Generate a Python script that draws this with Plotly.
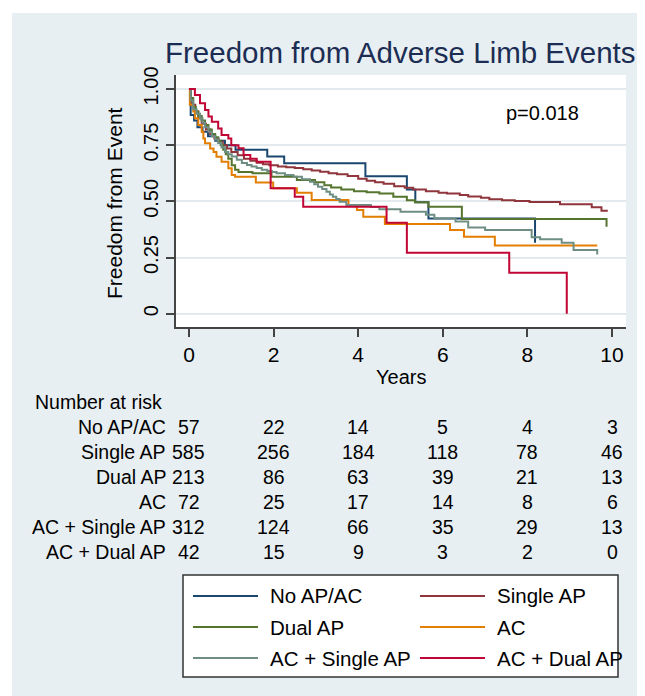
import plotly.graph_objects as go

# ---------------- data ----------------
groups = ["No AP/AC", "Single AP", "Dual AP", "AC", "AC + Single AP", "AC + Dual AP"]
colors = ["#1a476f", "#90353b", "#55752f", "#e37e00", "#6e8e84", "#c10534"]

t_noapac = [0, 0.04, 0.12, 0.2, 0.32, 0.45, 0.62, 0.85, 1.1, 1.85, 2.25, 4.17, 5.15, 5.35, 5.66, 8.18]
s_noapac = [1.0, 0.884, 0.86, 0.83, 0.81, 0.79, 0.77, 0.75, 0.73, 0.70, 0.669, 0.612, 0.553, 0.496, 0.424, 0.316]

t_single = [0, 0.03, 0.08, 0.15, 0.22, 0.3, 0.4, 0.5, 0.6, 0.7, 0.8, 0.9, 1.0, 1.15, 1.3, 1.45, 1.6, 1.75,
            1.9, 2.1, 2.3, 2.5, 2.7, 2.9, 3.1, 3.3, 3.5, 3.75, 4.0, 4.2, 4.4, 4.6, 4.85, 5.1, 5.3, 5.6, 5.9,
            6.1, 6.4, 6.6, 6.9, 7.1, 7.4, 7.7, 8.05, 8.77, 9.52, 9.75, 9.9]
s_single = [1.0, 0.96, 0.93, 0.90, 0.87, 0.845, 0.82, 0.80, 0.78, 0.765, 0.75, 0.735, 0.72, 0.705, 0.69, 0.68,
            0.672, 0.665, 0.66, 0.655, 0.652, 0.648, 0.643, 0.637, 0.632, 0.625, 0.62, 0.613, 0.60, 0.592,
            0.585, 0.578, 0.567, 0.56, 0.553, 0.545, 0.538, 0.535, 0.528, 0.521, 0.516, 0.509, 0.505, 0.502,
            0.497, 0.487, 0.474, 0.458, 0.458]

t_dual = [0, 0.04, 0.1, 0.16, 0.22, 0.3, 0.38, 0.46, 0.54, 0.62, 0.69, 0.75, 0.81, 0.87, 0.93, 1.01, 1.09,
          1.17, 1.5, 1.95, 2.55, 2.98, 3.2, 3.36, 3.6, 3.9, 4.2, 4.5, 4.83, 5.15, 5.34, 5.66, 6.45, 9.87]
s_dual = [1.0, 0.96, 0.92, 0.90, 0.88, 0.86, 0.84, 0.82, 0.80, 0.785, 0.77, 0.75, 0.73, 0.71, 0.69, 0.66, 0.64,
          0.63, 0.625, 0.609, 0.595, 0.585, 0.572, 0.562, 0.553, 0.545, 0.54, 0.535, 0.52, 0.505, 0.496, 0.476,
          0.421, 0.387]

t_ac = [0, 0.02, 0.1, 0.14, 0.22, 0.3, 0.34, 0.38, 0.5, 0.58, 0.65, 0.77, 0.93, 1.01, 1.09, 1.58, 1.99, 2.55,
        2.9, 3.77, 3.97, 4.12, 4.63, 6.17, 6.5, 7.23, 9.65]
s_ac = [1.0, 0.93, 0.90, 0.87, 0.84, 0.81, 0.78, 0.758, 0.735, 0.72, 0.698, 0.676, 0.647, 0.617, 0.609, 0.584,
        0.558, 0.538, 0.506, 0.48, 0.461, 0.431, 0.399, 0.372, 0.343, 0.303, 0.303]

t_acsingle = [0, 0.04, 0.1, 0.18, 0.26, 0.32, 0.38, 0.46, 0.54, 0.62, 0.69, 0.77, 0.85, 0.93, 1.01, 1.13, 1.25,
              1.37, 1.48, 1.6, 1.72, 1.85, 1.96, 2.07, 2.27, 2.47, 2.67, 2.86, 2.96, 3.05, 3.15, 3.25, 3.33,
              3.4, 3.48, 3.56, 3.72, 4.3, 4.5, 5.0, 5.6, 5.8, 6.3, 6.6, 7.0, 8.1, 8.3, 8.81, 9.09, 9.65]
s_acsingle = [1.0, 0.95, 0.91, 0.89, 0.87, 0.85, 0.83, 0.81, 0.79, 0.775, 0.76, 0.74, 0.72, 0.71, 0.70, 0.685,
              0.67, 0.662, 0.655, 0.648, 0.64, 0.635, 0.63, 0.625, 0.617, 0.609, 0.598, 0.587, 0.576, 0.565,
              0.555, 0.543, 0.53, 0.52, 0.51, 0.498, 0.484, 0.475, 0.465, 0.454, 0.44, 0.424, 0.41, 0.384,
              0.372, 0.34, 0.331, 0.316, 0.283, 0.264]

t_acdual = [0, 0.14, 0.26, 0.38, 0.46, 0.54, 0.69, 0.77, 0.93, 1.0, 1.17, 1.29, 1.45, 1.6, 1.93, 2.5, 2.7,
            4.67, 5.15, 7.57, 8.93]
s_acdual = [1.0, 0.973, 0.936, 0.906, 0.877, 0.854, 0.824, 0.795, 0.78, 0.75, 0.736, 0.706, 0.69, 0.676,
            0.558, 0.52, 0.476, 0.405, 0.271, 0.182, 0.0]

series_t = [t_noapac, t_single, t_dual, t_ac, t_acsingle, t_acdual]
series_s = [s_noapac, s_single, s_dual, s_ac, s_acsingle, s_acdual]

x_ticks = [0, 2, 4, 6, 8, 10]
y_ticks = [0, 0.25, 0.5, 0.75, 1.0]
y_tick_labels = ["0", "0.25", "0.50", "0.75", "1.00"]

risk_header = "Number at risk"
risk_times = [0, 2, 4, 6, 8, 10]
risk_counts = [
    [57, 22, 14, 5, 4, 3],
    [585, 256, 184, 118, 78, 46],
    [213, 86, 63, 39, 21, 13],
    [72, 25, 17, 14, 8, 6],
    [312, 124, 66, 35, 29, 13],
    [42, 15, 9, 3, 2, 0],
]
p_text = "p=0.018"
title_text = "Freedom from Adverse Limb Events"

# ---------------- layout helpers ----------------
OFF = 8  # default page body margin
W, H = 645 - OFF, 696 - OFF
L, R, T, B = 176 - OFF, 19, 75 - OFF, 369
PW, PH = W - L - R, H - T - B


def xp(px):
    """reference page x pixel -> paper coordinate"""
    return (px - OFF - L) / PW


def yp(py):
    """reference page y pixel -> paper coordinate"""
    return (H - B - (py - OFF)) / PH


FONT = "Liberation Sans, Arial, sans-serif"
BG = "#e8eff2"

fig = go.Figure()
for name, col, tt, ss in zip(groups, colors, series_t, series_s):
    fig.add_trace(go.Scatter(x=tt, y=ss, mode="lines", line=dict(color=col, width=2, shape="hv"),
                             name=name, showlegend=False))

annotations = []
shapes = []

# title
annotations.append(dict(x=xp(400), y=yp(52), xref="paper", yref="paper", text=title_text, showarrow=False,
                        font=dict(size=29.5, color="#1c2d54", family=FONT), xanchor="center", yanchor="middle"))
# p-value
annotations.append(dict(x=8.35, y=0.893, xref="x", yref="y", text=p_text, showarrow=False,
                        font=dict(size=20, color="black", family=FONT), xanchor="center", yanchor="middle"))
# axis titles
annotations.append(dict(x=xp(401), y=yp(377), xref="paper", yref="paper", text="Years", showarrow=False,
                        font=dict(size=20, color="black", family=FONT), xanchor="center", yanchor="middle"))
annotations.append(dict(x=xp(114), y=yp(203), xref="paper", yref="paper", text="Freedom from Event",
                        showarrow=False, textangle=-90,
                        font=dict(size=21, color="black", family=FONT), xanchor="center", yanchor="middle"))

# number at risk table (number columns sit under the x ticks)
TF = 19.5
annotations.append(dict(x=xp(33), y=yp(402), xref="paper", yref="paper", text=risk_header, showarrow=False,
                        font=dict(size=TF, color="black", family=FONT), xanchor="left", yanchor="middle"))
row_y = [427, 452, 477, 502, 527, 552]
for i, g in enumerate(groups):
    annotations.append(dict(x=xp(168), y=yp(row_y[i]), xref="paper", yref="paper", text=g, showarrow=False,
                            font=dict(size=TF, color="black", family=FONT), xanchor="right", yanchor="middle"))
    for tval, v in zip(risk_times, risk_counts[i]):
        annotations.append(dict(x=tval, y=yp(row_y[i]), xref="x", yref="paper", text=str(v),
                                showarrow=False, font=dict(size=TF, color="black", family=FONT),
                                xanchor="center", yanchor="middle"))

# manual legend
shapes.append(dict(type="rect", xref="paper", yref="paper", x0=xp(183), x1=xp(618), y0=yp(575), y1=yp(677),
                   fillcolor="white", line=dict(color="#333333", width=1.5), layer="above"))
leg_rows = [596, 627, 658]
leg_line_x = [(193, 258), (420, 485)]
leg_text_x = [268, 495]
for k, (g, c) in enumerate(zip(groups, colors)):
    r, cidx = divmod(k, 2)
    x0, x1 = leg_line_x[cidx]
    shapes.append(dict(type="line", xref="paper", yref="paper", x0=xp(x0), x1=xp(x1), y0=yp(leg_rows[r]),
                       y1=yp(leg_rows[r]), line=dict(color=c, width=2), layer="above"))
    annotations.append(dict(x=xp(leg_text_x[cidx]), y=yp(leg_rows[r]), xref="paper", yref="paper", text=g,
                            showarrow=False, font=dict(size=20.5, color="black", family=FONT),
                            xanchor="left", yanchor="middle"))

# white outer margins (top and left strips)
shapes.append(dict(type="rect", xref="paper", yref="paper", x0=xp(0), x1=xp(660), y0=yp(13), y1=yp(0),
                   fillcolor="white", line=dict(width=0), layer="below"))
shapes.append(dict(type="rect", xref="paper", yref="paper", x0=xp(0), x1=xp(12), y0=yp(0), y1=yp(710),
                   fillcolor="white", line=dict(width=0), layer="below"))

fig.update_layout(
    width=W, height=H,
    margin=dict(l=L, r=R, t=T, b=B, pad=0),
    paper_bgcolor=BG, plot_bgcolor="white",
    showlegend=False,
    annotations=annotations, shapes=shapes,
    font=dict(family=FONT, color="black"),
)
fig.update_xaxes(range=[-0.307, 10.33], tickvals=x_ticks, ticktext=[str(v) for v in x_ticks],
                 showgrid=False, zeroline=False, showline=True, linecolor="#444444", linewidth=1.5,
                 ticks="outside", ticklen=8, tickwidth=1.5, tickcolor="#444444",
                 tickfont=dict(size=21, color="black", family=FONT))
fig.update_yaxes(range=[-0.059, 1.062], tickvals=y_ticks, ticktext=y_tick_labels, tickangle=-90,
                 showgrid=True, gridcolor="#e2eaee", gridwidth=1.5, zeroline=False,
                 showline=True, linecolor="#444444", linewidth=1.5,
                 ticks="outside", ticklen=8, tickwidth=1.5, tickcolor="#444444",
                 tickfont=dict(size=20, color="black", family=FONT))

fig.write_html("out.html")
